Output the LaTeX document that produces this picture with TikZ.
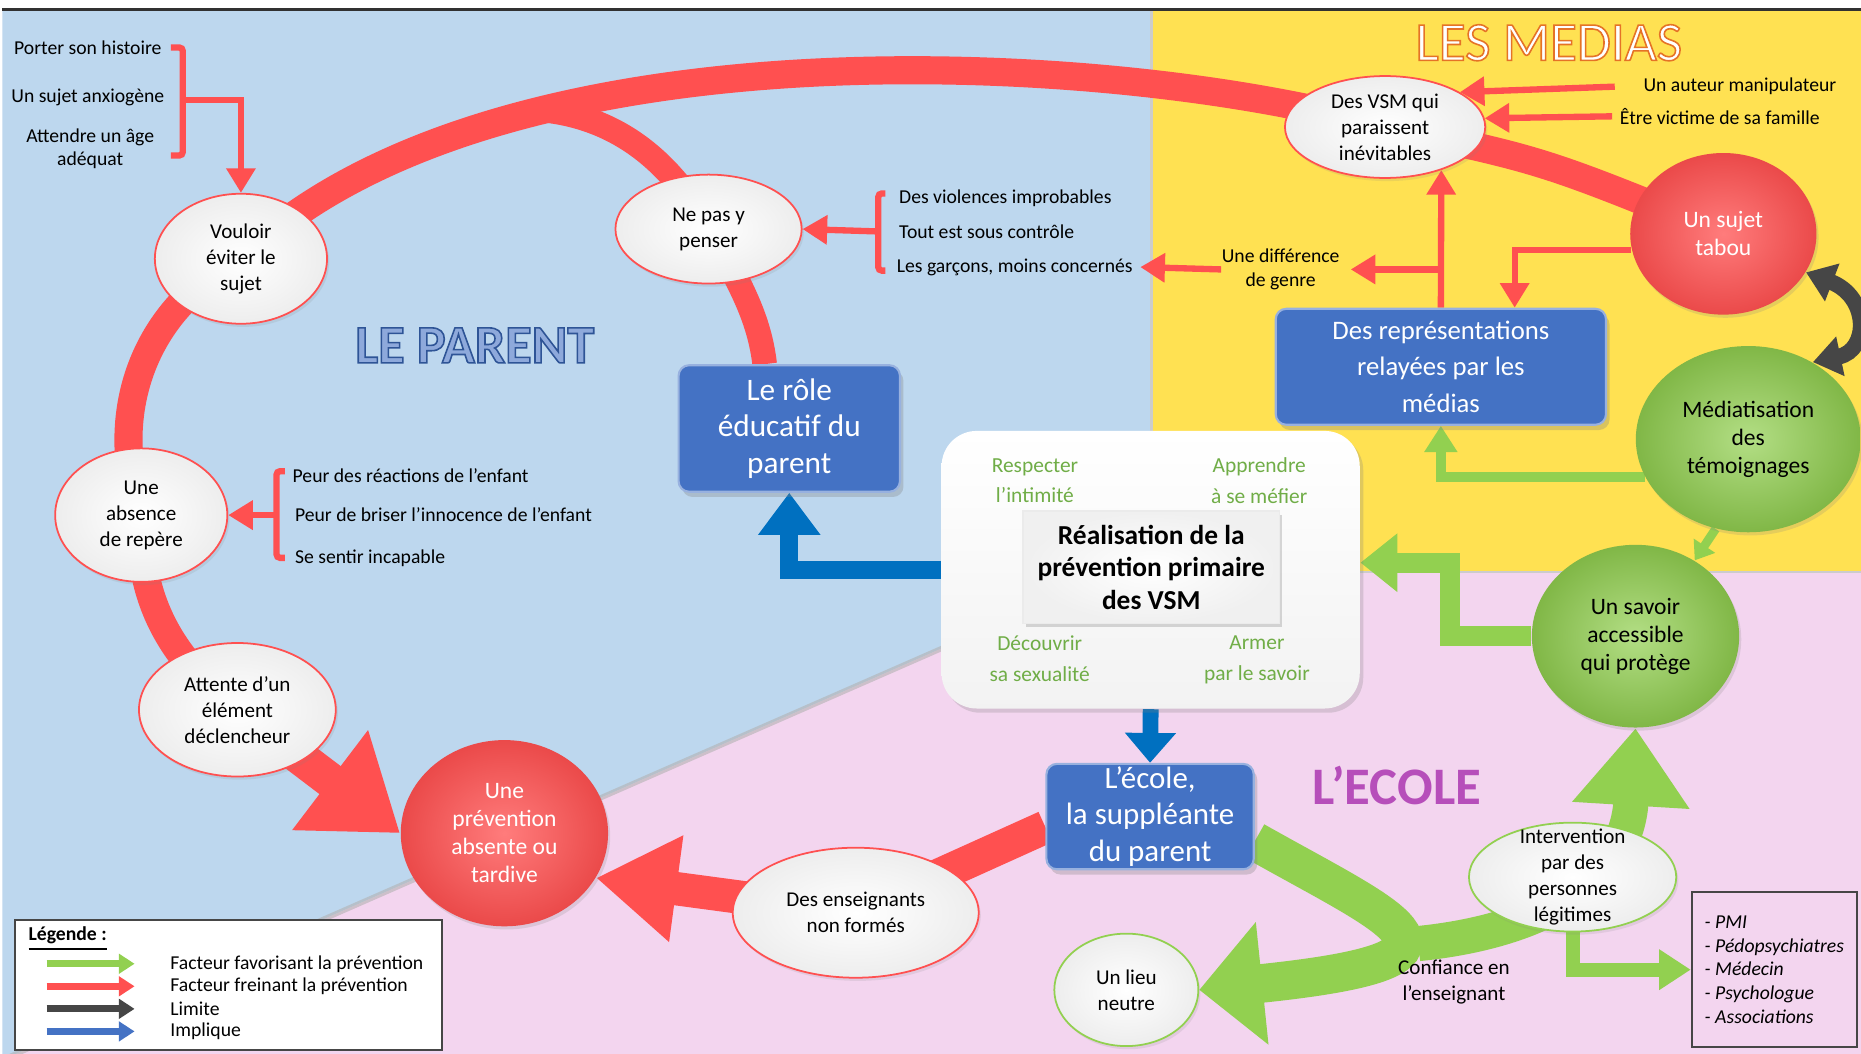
\documentclass[tikz,border=0pt]{standalone}
\usepackage{fontspec}
\setmainfont{Carlito}
\usepackage{tikz}
\usetikzlibrary{arrows.meta,shapes.geometric,shadows,positioning,calc}
\definecolor{bgblue}{RGB}{189,215,238}
\definecolor{bgyellow}{RGB}{255,225,82}
\definecolor{bgpink}{RGB}{243,213,239}
\definecolor{fred}{RGB}{255,80,80}
\definecolor{fgreen}{RGB}{146,208,80}
\definecolor{boxblue}{RGB}{68,114,196}
\definecolor{arrblue}{RGB}{0,112,192}
\definecolor{dgray}{RGB}{70,70,70}
\definecolor{ecolepurple}{RGB}{182,78,186}
\definecolor{parentblue}{RGB}{142,169,219}
\definecolor{txtgreen}{RGB}{112,173,71}
\newcommand{\outl}[2]{\special{pdf:literal direct 2 Tr 0.45 w #1 RG}#2\special{pdf:literal direct 0 Tr}}
\pgfdeclarelayer{bgfill}
\pgfdeclarelayer{bands}
\pgfsetlayers{bgfill,bands,main}
\tikzstyle{bubble}=[ellipse, draw=fred, line width=0.5pt, inner color=white, outer color=black!7,
                inner sep=0pt, align=center, font=\fontsize{6}{7.4}\selectfont,
                drop shadow={opacity=0.15,shadow xshift=0.6pt,shadow yshift=-0.9pt}]
\tikzstyle{gbubble}=[bubble, draw=fgreen]
\tikzstyle{redball}=[ellipse, inner color=fred!75!white, outer color=fred!92!black, text=white,
                inner sep=0pt, align=center, font=\fontsize{6.7}{8}\selectfont,
                drop shadow={opacity=0.2,shadow xshift=0.6pt,shadow yshift=-0.9pt}]
\tikzstyle{greenball}=[redball, inner color=fgreen!70!white, outer color=fgreen!88!black, text=black]
\tikzstyle{bluebox}=[rectangle, rounded corners=3pt, fill=boxblue, draw=boxblue!55!white, line width=0.6pt,
                text=white, inner sep=0pt, align=center,
                drop shadow={opacity=0.3,shadow xshift=1pt,shadow yshift=-1.5pt}]
\tikzstyle{lbl}=[inner sep=0pt, align=center, font=\fontsize{5.6}{6.6}\selectfont]
\tikzstyle{gtxt}=[inner sep=0pt, align=center, text=txtgreen, font=\fontsize{6.1}{8.8}\selectfont]
\tikzstyle{redband}=[draw=fred, line width=8pt]
\tikzstyle{redthin}=[draw=fred, line width=1.8pt]
\tikzstyle{redarrow}=[redthin, -{Triangle[length=7pt,width=8pt]}]
\tikzstyle{bluearrow}=[draw=arrblue, line width=5.2pt, -{Triangle[length=12pt,width=17pt]}]
\tikzstyle{greenarrow}=[draw=fgreen, line width=3pt, -{Triangle[length=7.5pt,width=9pt]}]
\tikzstyle{greenfat}=[draw=fgreen, line width=5.7pt, -{Triangle[length=10.5pt,width=16pt]}]
\tikzstyle{greenband}=[draw=fgreen, line width=11pt, -{Triangle[length=18pt,width=34pt]}]
\tikzstyle{grayarrow}=[draw=dgray, line width=4.5pt, {Triangle[length=8pt,width=11pt]}-{Triangle[length=8pt,width=11pt]}]
\tikzstyle{legarrow}=[line width=2pt, -{Triangle[length=4.5pt,width=5.5pt]}]

\begin{document}
\begin{tikzpicture}[x=0.011869cm, y=-0.011869cm]
\useasboundingbox (0,0) rectangle (1568,888);

% le parent
\node[bubble, minimum width=49pt, minimum height=37pt] (vouloir) at (203,218) {Vouloir\\éviter le\\sujet};
\node[bubble, minimum width=53pt, minimum height=31pt] (nepas) at (597,193) {Ne pas y\\penser};
\node[bubble, minimum width=49pt, minimum height=38pt] (absence) at (119,434) {Une\\absence\\de repère};
\node[bubble, minimum width=56pt, minimum height=38pt] (attente) at (200,598) {Attente d’un\\élément\\déclencheur};
\node[redball, minimum width=59pt, minimum height=53pt] (prevention) at (425,702) {Une\\prévention\\absente ou\\tardive};
\node[bluebox, minimum width=63pt, minimum height=36pt, font=\fontsize{8.9}{10.4}\selectfont] (role) at (665,361) {Le rôle\\éducatif du\\parent};
\node[font=\fontsize{15.4}{15.4}\selectfont\bfseries, text=parentblue] (parent) at (400,291) {\outl{0.18 0.33 0.59}{LE PARENT}};

\node[lbl] (porter) at (74,40) {Porter son histoire};
\node[lbl] (anxio) at (74,82) {Un sujet anxiogène};
\node[lbl] (attendre) at (76,125) {Attendre un âge\\adéquat};
\node[lbl, anchor=west] (viol) at (757,167) {Des violences improbables};
\node[lbl, anchor=west] (tout) at (757,195) {Tout est sous contrôle};
\node[lbl, anchor=west] (garcons) at (755,225) {Les garçons, moins concernés};
\node[lbl, anchor=west] (peur1) at (246,401) {Peur des réactions de l’enfant};
\node[lbl, anchor=west] (peur2) at (248,434) {Peur de briser l’innocence de l’enfant};
\node[lbl, anchor=west] (sentir) at (248,470) {Se sentir incapable};

% les medias
\node[font=\fontsize{15.7}{15.7}\selectfont, text=white] (medias) at (1305,36) {\outl{0.9 0.45 0.15}{LES MEDIAS}};
\node[bubble, minimum width=57pt, minimum height=29pt] (vsm) at (1167,107) {Des VSM qui\\paraissent\\inévitables};
\node[redball, minimum width=53pt, minimum height=46pt] (tabou) at (1452,197) {Un sujet\\tabou};
\node[bluebox, minimum width=94pt, minimum height=33pt, font=\fontsize{7.6}{10.4}\selectfont] (repr) at (1214,309) {Des représentations\\relayées par les\\médias};
\node[greenball, minimum width=64pt, minimum height=53pt] (media) at (1473,370) {Médiatisation\\des\\témoignages};
\node[lbl] (auteur) at (1466,73) {Un auteur manipulateur};
\node[lbl] (victime) at (1449,98) {Être victime de sa famille};
\node[lbl] (genre) at (1079,227) {Une différence\\de genre};

% l'ecole
\node[greenball, minimum width=59pt, minimum height=52pt] (savoir) at (1378,536) {Un savoir\\accessible\\qui protège};
\node[bluebox, minimum width=59pt, minimum height=30pt, font=\fontsize{8.8}{10.4}\selectfont] (ecole) at (969,688) {L’école,\\la suppléante\\du parent};
\node[bubble, minimum width=70pt, minimum height=37pt] (ens) at (721,769) {Des enseignants\\non formés};
\node[gbubble, minimum width=41pt, minimum height=32pt] (lieu) at (949,834) {Un lieu\\neutre};
\node[gbubble, minimum width=59pt, minimum height=31pt, inner ysep=-4pt] (interv) at (1325,739) {Intervention\\par des\\personnes\\légitimes};
\node[font=\fontsize{15}{15}\selectfont\bfseries, text=ecolepurple] (ecoletitre) at (1177,662) {L’ECOLE};
\node[lbl, font=\fontsize{6}{7.4}\selectfont] (confiance) at (1225,827) {Confiance en\\l’enseignant};
\node[draw=dgray, line width=0.6pt, minimum width=47pt, minimum height=44pt, align=left, inner sep=0pt,
      font=\fontsize{5.6}{6.7}\selectfont\itshape] (plist) at (1495,817)
      {- PMI\\- Pédopsychiatres\\- Médecin\\- Psychologue\\- Associations};

% centre
\node[rectangle, rounded corners=10pt, minimum width=119pt, minimum height=79pt, top color=white, bottom color=black!5,
      drop shadow={opacity=0.25,shadow xshift=1pt,shadow yshift=-1.2pt}] (realis) at (969.5,480) {};
\node[rectangle, minimum width=73pt, minimum height=32pt, inner color=white, outer color=black!6, draw=black!8,
      inner sep=0pt, align=center, font=\fontsize{7.8}{9.3}\selectfont\bfseries,
      drop shadow={opacity=0.3,shadow xshift=0.8pt,shadow yshift=-1pt}] (titre) at (970,478)
      {Réalisation de la\\prévention primaire\\des VSM};
\node[gtxt] (respect) at (872,405) {Respecter\\l’intimité};
\node[gtxt] (apprendre) at (1061,405) {Apprendre\\à se méfier};
\node[gtxt] (decouvrir) at (876,555) {Découvrir\\sa sexualité};
\node[gtxt] (armer) at (1059,556) {Armer\\par le savoir};

% legende
\node[draw=dgray, fill=white, line width=0.6pt, minimum width=121.5pt, minimum height=37pt] (leg) at (192.5,830) {};
\node[lbl, font=\fontsize{5.6}{6.6}\selectfont\bfseries] (legtitre) at (57,791) {\underline{Légende :}};
\node[lbl, anchor=west] (lg1) at (143,812) {Facteur favorisant la prévention};
\node[lbl, anchor=west] (lg2) at (143,831) {Facteur freinant la prévention};
\node[lbl, anchor=west] (lg3) at (143,850) {Limite};
\node[lbl, anchor=west] (lg4) at (143,869) {Implique};
\draw[legarrow, fgreen] ([xshift=-35pt]lg1.west) -- ([xshift=-10pt]lg1.west);
\draw[legarrow, fred] ([xshift=-35pt]lg2.west) -- ([xshift=-10pt]lg2.west);
\draw[legarrow, dgray] ([xshift=-35pt]lg3.west) -- ([xshift=-10pt]lg3.west);
\draw[legarrow, boxblue] ([xshift=-35pt]lg4.west) -- ([xshift=-10pt]lg4.west);

\begin{pgfonlayer}{bgfill}
\fill[white] (0,0) rectangle (1568,888);
\fill[bgblue] (2,8) -- (970,8) -- (970,469) -- (2,893) -- cycle;
\fill[bgpink] (2,893) -- (970,469) -- (970,482) -- (1568,482) -- (1568,893) -- cycle;
\fill[bgyellow] (970,8) rectangle (1568,482);
\draw[black!30, line width=1.5pt, opacity=0.6] (2,893) -- (970,469);
\draw[black!20, line width=0.8pt] (970,8) -- (970,482) -- (1568,482);
\draw[dgray!70!black, line width=0.8pt] (2,8) -- (1568,8);
\end{pgfonlayer}

\begin{pgfonlayer}{bands}
\coordinate (merge) at (460,93);
\coordinate (bend) at (1195,795);
\coordinate (brA) at (154,84);
\coordinate (brB) at (740,195);
\coordinate (brC) at (233,434);
\coordinate (vsmfoot) at ([xshift=16pt,yshift=2.5pt]vsm.south);
% grand arc rouge
\draw[redband] (tabou.center) .. controls (1300,135) .. (vsm.center)
      .. controls (950,45) and (420,10) .. (vouloir.center)
      .. controls (120,260) and (90,350) .. (absence.center)
      .. controls (115,510) and (150,560) .. (attente.center);
\draw[redband, line width=10pt, -{Triangle[length=25pt,width=34pt]}] (attente.center) -- (prevention.west);
\draw[redband, line width=7pt] ([xshift=-7pt]role.north) .. controls (640,270) and (625,240) .. (nepas.center)
      .. controls (565,135) and (520,100) .. (merge);
\draw[redband, line width=9.5pt, -{Triangle[length=23pt,width=29pt]}] ([yshift=-3pt]ecole.west) -- (ens.center) -- (prevention.-26);
% accolades
\draw[redthin, rounded corners=1pt] (144,40) -- (154,40) -- (154,131) -- (144,131);
\draw[redarrow] (brA) -| (vouloir.north);
\draw[redthin, rounded corners=1pt] (746,163) -- (740,163) -- (740,228) -- (746,228);
\draw[redarrow] (brB) -- (nepas.east);
\draw[redthin, rounded corners=1pt] (240,397) -- (233,397) -- (233,470) -- (240,470);
\draw[redarrow] (brC) -- (absence.east);
% medias
\draw[redarrow] ([xshift=-8pt]auteur.west) -- (vsm.25);
\draw[redarrow] ([xshift=-2pt]victime.west) -- (vsm.5);
\draw[redarrow] (tabou.190) -| ([xshift=21pt]repr.north);
\draw[redarrow] (repr.north) -- (vsmfoot);
\draw[redarrow] (repr.north |- genre.east) -- ([xshift=3pt]genre.east);
\draw[redarrow] (genre.west) -- ([xshift=2pt]garcons.east);
\draw[grayarrow] (tabou.-25) .. controls (1575,250) and (1575,295) .. (media.50);
\draw[greenarrow] (media.200) -| (repr.south);
\draw[greenarrow, line width=2.5pt, -{Triangle[length=5pt,width=7pt]}] (media.250) -- (savoir.52);
% centre
\draw[bluearrow] (realis.west) -| (role.south);
\draw[bluearrow, line width=4.5pt, -{Triangle[length=8.5pt,width=14pt]}] (realis.south) -- (ecole.north);
\draw[greenfat] (savoir.west) -- ++(-68,0) |- ([yshift=2pt]realis.east);
% ecole
\draw[greenband] ([yshift=-7pt]ecole.east) .. controls (1180,778) and (1262,808) .. (lieu.east);
\draw[greenband, line width=10pt, -{Triangle[length=22pt,width=32pt]}] (bend) .. controls (1295,785) and (1370,745) .. (savoir.south);
\draw[greenarrow, line width=4pt, -{Triangle[length=9pt,width=11pt]}] (interv.south) |- (plist.west);
\end{pgfonlayer}
\end{tikzpicture}
\end{document}
